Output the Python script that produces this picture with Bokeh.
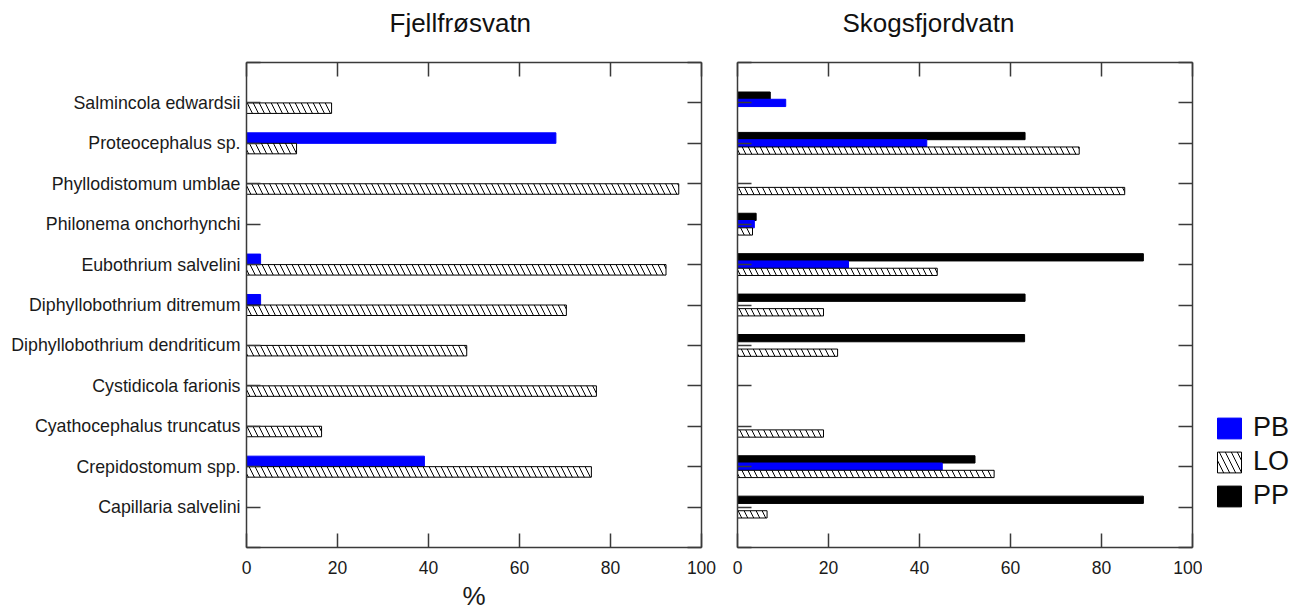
from bokeh.plotting import figure
from bokeh.models import (ColumnDataSource, Range1d, LinearAxis, FixedTicker,
                          Legend, LegendItem, CustomLabelingPolicy)
from bokeh.layouts import row
from bokeh.transform import dodge
from bokeh.embed import file_html
from bokeh.resources import INLINE

# ---------------- data ----------------
categories = [
    "Salmincola edwardsii", "Proteocephalus sp.", "Phyllodistomum umblae",
    "Philonema onchorhynchi", "Eubothrium salvelini", "Diphyllobothrium ditremum",
    "Diphyllobothrium dendriticum", "Cystidicola farionis", "Cyathocephalus truncatus",
    "Crepidostomum spp.", "Capillaria salvelini",
]
x_ticks = [0, 20, 40, 60, 80, 100]
panel_titles = ["Fjellfrøsvatn", "Skogsfjordvatn"]
series_names = ["PB", "LO", "PP"]

fjell_PB = [0, 68.0, 0, 0, 3.1, 3.1, 0, 0, 0, 39.1, 0]
fjell_LO = [18.7, 11.0, 95.0, 0, 92.2, 70.3, 48.4, 76.9, 16.5, 75.8, 0]

skogs_PP = [7.2, 63.2, 0, 4.1, 89.2, 63.2, 63.1, 0, 0, 52.2, 89.2]
skogs_PB = [10.6, 41.6, 0, 3.7, 24.4, 0, 0, 0, 0, 45.0, 0]
skogs_LO = [0, 75.1, 85.1, 3.3, 43.9, 18.9, 22.0, 0, 18.9, 56.4, 6.5]

# ---------------- styling ----------------
FONT = "Liberation Sans"
AX = "#3a3a3a"
BLUE = "#0000FF"
n = len(categories)
ypos = [n - i for i in range(n)]
y_ticks = list(range(0, n + 2))
overrides = {y: c for y, c in zip(ypos, categories)}
overrides[0] = ""
overrides[n + 1] = ""

NO_LABELS = "for (const i of indices) { indices.unset(i) }\nreturn indices"


def make_axis(ticks, labels=False, font_size="17.5px", standoff=13, overrides=None):
    ax = LinearAxis(ticker=FixedTicker(ticks=ticks, minor_ticks=[]),
                    major_tick_in=14, major_tick_out=0,
                    minor_tick_in=0, minor_tick_out=0,
                    axis_line_color=AX, axis_line_width=1.5,
                    major_tick_line_color=AX, major_tick_line_width=1.5,
                    major_label_text_font=FONT,
                    major_label_text_color="#1a1a1a",
                    major_label_text_font_style="normal",
                    axis_label_text_font=FONT,
                    axis_label_text_font_style="normal",
                    axis_label_text_color="#1a1a1a")
    if labels:
        ax.major_label_text_font_size = font_size
        ax.major_label_standoff = standoff
        if overrides:
            ax.major_label_overrides = overrides
    else:
        ax.major_label_text_font_size = "1px"
        ax.major_label_standoff = standoff
        ax.major_label_policy = CustomLabelingPolicy(code=NO_LABELS)
    return ax


def make_fig(title, min_left, min_right, title_offset, show_ylabels, xlabel):
    p = figure(frame_width=455, frame_height=485,
               x_range=Range1d(0, 100), y_range=Range1d(0, n + 1),
               output_backend="svg", toolbar_location=None,
               x_axis_location=None, y_axis_location=None,
               min_border_left=min_left, min_border_right=min_right,
               min_border_top=62, min_border_bottom=60,
               background_fill_color="white", border_fill_color="white")
    p.outline_line_color = None
    p.grid.grid_line_color = None
    p.title.text = title
    p.title.align = "left"
    p.title.offset = title_offset
    p.title.text_font = FONT
    p.title.text_font_size = "26px"
    p.title.text_font_style = "normal"
    p.title.text_color = "#111111"
    p.title.standoff = 4

    bottom = make_axis(x_ticks, labels=True, font_size="17.5px", standoff=13)
    if xlabel:
        bottom.axis_label = xlabel
        bottom.axis_label_text_font_size = "26px"
        bottom.axis_label_standoff = 4
    p.add_layout(bottom, "below")
    p.add_layout(make_axis(x_ticks, standoff=19), "above")
    if show_ylabels:
        p.add_layout(make_axis(y_ticks, labels=True, font_size="17.8px",
                               standoff=6, overrides=overrides), "left")
    else:
        p.add_layout(make_axis(y_ticks, standoff=0), "left")
    p.add_layout(make_axis(y_ticks, standoff=0), "right")
    return p


hatch_kw = dict(fill_color="white", line_color="black", line_width=1,
                hatch_pattern="\\", hatch_color="black", hatch_scale=12,
                hatch_weight=1)
pb_kw = dict(fill_color=BLUE, line_color=BLUE, line_width=1)
pp_kw = dict(fill_color="black", line_color="black", line_width=1)

# ---------------- left panel ----------------
p1 = make_fig(panel_titles[0], 246, 18, 143, True, "%")
src1 = ColumnDataSource(dict(y=ypos, PB=fjell_PB, LO=fjell_LO))
p1.hbar(y=dodge("y", 0.13), left=0, right="PB", height=0.26, source=src1, **pb_kw)
p1.hbar(y=dodge("y", -0.13), left=0, right="LO", height=0.26, source=src1, **hatch_kw)

# ---------------- right panel ----------------
p2 = make_fig(panel_titles[1], 18, 10, 105, False, None)
src2 = ColumnDataSource(dict(y=ypos, PP=skogs_PP, PB=skogs_PB, LO=skogs_LO))
p2.hbar(y=dodge("y", 0.18), left=0, right="PP", height=0.18, source=src2, **pp_kw)
p2.hbar(y="y", left=0, right="PB", height=0.18, source=src2, **pb_kw)
p2.hbar(y=dodge("y", -0.18), left=0, right="LO", height=0.18, source=src2, **hatch_kw)

# ---------------- legend strip (hidden key renderers, legend only) ----------------
p3 = figure(width=94, height=607, x_range=Range1d(0, 1), y_range=Range1d(0, 1),
            output_backend="svg", toolbar_location=None,
            x_axis_location=None, y_axis_location=None,
            min_border_left=0, min_border_right=0, min_border_top=0,
            min_border_bottom=0)
p3.outline_line_color = None
p3.grid.grid_line_color = None
k_pb = p3.hbar(y="y", left=0, right="PB", height=0.18, source=src2, visible=False, **pb_kw)
k_lo = p3.hbar(y="y", left=0, right="LO", height=0.18, source=src2, visible=False, **hatch_kw)
k_pp = p3.hbar(y="y", left=0, right="PP", height=0.18, source=src2, visible=False, **pp_kw)

legend = Legend(items=[LegendItem(label=series_names[0], renderers=[k_pb]),
                       LegendItem(label=series_names[1], renderers=[k_lo]),
                       LegendItem(label=series_names[2], renderers=[k_pp])],
                location=(12, 30), orientation="vertical",
                glyph_width=30, glyph_height=26, label_standoff=9,
                label_text_font=FONT, label_text_font_size="27px",
                label_text_color="#111111",
                spacing=3, padding=0, margin=0,
                border_line_color=None, background_fill_alpha=0)
p3.add_layout(legend)

layout = row(p1, p2, p3)
open("out.html", "w").write(file_html(layout, INLINE))
